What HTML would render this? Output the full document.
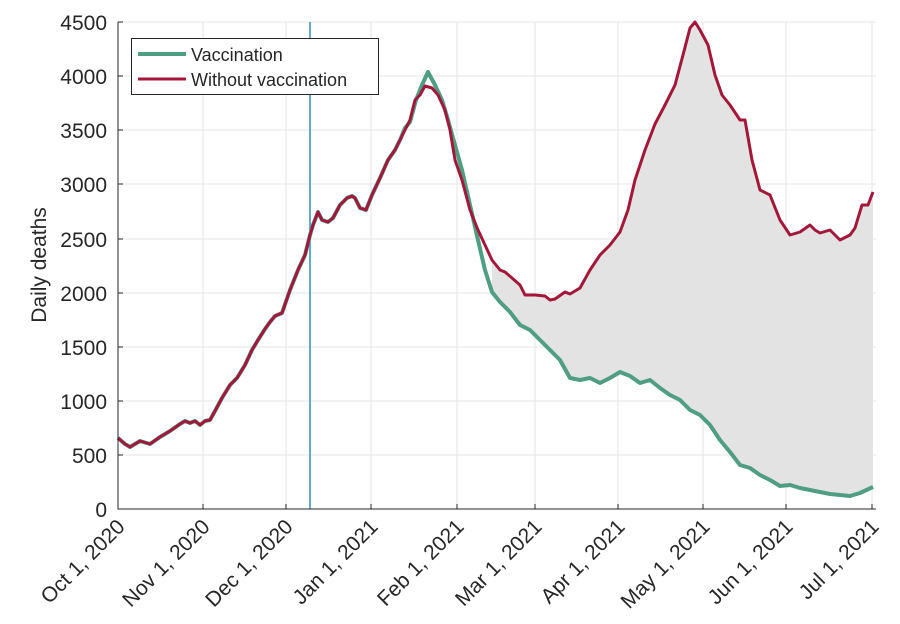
<!DOCTYPE html>
<html><head><style>body{margin:0;background:#fff}svg{display:block}text{font-family:"Liberation Sans",sans-serif;fill:#262626}</style></head>
<body>
<svg width="900" height="624" viewBox="0 0 900 624" xmlns="http://www.w3.org/2000/svg">
<rect width="900" height="624" fill="#fff"/>
<g stroke="#e6e6e6" stroke-width="1">
<line x1="118" y1="455" x2="876" y2="455"/><line x1="118" y1="401" x2="876" y2="401"/><line x1="118" y1="347" x2="876" y2="347"/><line x1="118" y1="293" x2="876" y2="293"/><line x1="118" y1="239" x2="876" y2="239"/><line x1="118" y1="184" x2="876" y2="184"/><line x1="118" y1="130" x2="876" y2="130"/><line x1="118" y1="76" x2="876" y2="76"/><line x1="118" y1="22" x2="876" y2="22"/>
<line x1="203" y1="22" x2="203" y2="509"/><line x1="286" y1="22" x2="286" y2="509"/><line x1="371" y1="22" x2="371" y2="509"/><line x1="457" y1="22" x2="457" y2="509"/><line x1="535" y1="22" x2="535" y2="509"/><line x1="618" y1="22" x2="618" y2="509"/><line x1="703" y1="22" x2="703" y2="509"/><line x1="786" y1="22" x2="786" y2="509"/><line x1="872" y1="22" x2="872" y2="509"/>
</g>
<polygon fill="#e3e3e3" points="492,260 500,270 505,272 512,278 520,285 525,295 535,295 545,296 550,300 555,299 565,292 570,294 580,288 590,270 600,255 610,245 620,232 628,210 635,180 645,150 655,124 665,105 675,85 683,55 690,28 695,22 700,30 708,45 715,75 722,95 730,105 740,120 745,120 752,160 760,190 770,195 780,220 790,235 800,232 810,225 815,230 820,233 830,230 840,240 850,235 855,228 862,205 868,205 873,192 873,487 860,493 850,496 840,495 830,494 820,492 810,490 800,488 790,485 780,486 770,480 760,475 750,468 740,465 730,452 720,440 710,425 700,415 690,410 680,400 670,395 660,388 650,380 640,383 630,376 620,372 610,378 600,383 590,378 580,380 570,378 560,360 550,350 540,340 530,330 520,325 510,312 500,302 492,292"/>
<line x1="310" y1="22" x2="310" y2="509" stroke="#2f8fbf" stroke-width="1.5"/>
<polyline fill="none" stroke="#4f9e84" stroke-width="4" stroke-linejoin="round" points="118,438 125,444 130,447 140,441 150,444 160,437 170,431 180,424 185,421 190,423 195,421 200,425 205,421 210,420 215,411 222,398 230,385 237,378 245,365 252,350 258,340 265,329 270,322 275,316 282,313 290,290 298,270 305,255 310,235 313,225 318,212 322,220 328,222 333,218 340,205 347,198 352,196 355,198 360,208 366,210 372,195 380,178 388,160 395,150 400,140 405,128 410,122 416,100 422,85 428,72 435,85 442,100 448,120 455,145 462,170 470,205 478,240 485,270 492,292 500,302 510,312 520,325 530,330 540,340 550,350 560,360 570,378 580,380 590,378 600,383 610,378 620,372 630,376 640,383 650,380 660,388 670,395 680,400 690,410 700,415 710,425 720,440 730,452 740,465 750,468 760,475 770,480 780,486 790,485 800,488 810,490 820,492 830,494 840,495 850,496 860,493 873,487"/>
<polyline fill="none" stroke="#a3183a" stroke-width="3" stroke-linejoin="round" points="118,438 125,444 130,447 140,441 150,444 160,437 170,431 180,424 185,421 190,423 195,421 200,425 205,421 210,420 215,411 222,398 230,385 237,378 245,365 252,350 258,340 265,329 270,322 275,316 282,313 290,290 298,270 305,255 310,235 313,225 318,212 322,220 328,222 333,218 340,205 347,198 352,196 355,198 360,208 366,210 372,195 380,178 388,160 395,150 400,140 405,130 410,120 415,100 420,95 425,86 432,88 438,95 445,110 450,130 455,160 462,180 470,210 478,230 485,245 492,260 500,270 505,272 512,278 520,285 525,295 535,295 545,296 550,300 555,299 565,292 570,294 580,288 590,270 600,255 610,245 620,232 628,210 635,180 645,150 655,124 665,105 675,85 683,55 690,28 695,22 700,30 708,45 715,75 722,95 730,105 740,120 745,120 752,160 760,190 770,195 780,220 790,235 800,232 810,225 815,230 820,233 830,230 840,240 850,235 855,228 862,205 868,205 873,192"/>
<g stroke="#262626" stroke-width="1" fill="none">
<polyline points="118,22 118,509 876,509"/>
<path d="M118,455h5M118,401h5M118,347h5M118,293h5M118,239h5M118,184h5M118,130h5M118,76h5M118,22h5M203,509v-5M286,509v-5M371,509v-5M457,509v-5M535,509v-5M618,509v-5M703,509v-5M786,509v-5M872,509v-5"/>
</g>
<g font-size="21" text-anchor="end">
<text x="107" y="517">0</text><text x="107" y="463">500</text><text x="107" y="409">1000</text><text x="107" y="355">1500</text><text x="107" y="301">2000</text><text x="107" y="247">2500</text><text x="107" y="192">3000</text><text x="107" y="138">3500</text><text x="107" y="84">4000</text><text x="107" y="30">4500</text>
</g>
<g font-size="21" text-anchor="end">
<text transform="translate(126,528) rotate(-45)">Oct 1, 2020</text>
<text transform="translate(211,528) rotate(-45)">Nov 1, 2020</text>
<text transform="translate(294,528) rotate(-45)">Dec 1, 2020</text>
<text transform="translate(379,528) rotate(-45)">Jan 1, 2021</text>
<text transform="translate(465,528) rotate(-45)">Feb 1, 2021</text>
<text transform="translate(543,528) rotate(-45)">Mar 1, 2021</text>
<text transform="translate(626,528) rotate(-45)">Apr 1, 2021</text>
<text transform="translate(711,528) rotate(-45)">May 1, 2021</text>
<text transform="translate(794,528) rotate(-45)">Jun 1, 2021</text>
<text transform="translate(880,528) rotate(-45)">Jul 1, 2021</text>
</g>
<text transform="translate(46,265) rotate(-90)" font-size="21" text-anchor="middle">Daily deaths</text>
<rect x="131.5" y="38.5" width="247" height="56" fill="#fff" stroke="#262626" stroke-width="1"/>
<line x1="138" y1="54" x2="186" y2="54" stroke="#4f9e84" stroke-width="4"/>
<line x1="138" y1="79" x2="186" y2="79" stroke="#a3183a" stroke-width="3"/>
<text x="191" y="61" font-size="18" fill="#000">Vaccination</text>
<text x="191" y="86" font-size="18" fill="#000">Without vaccination</text>
</svg>
</body></html>
